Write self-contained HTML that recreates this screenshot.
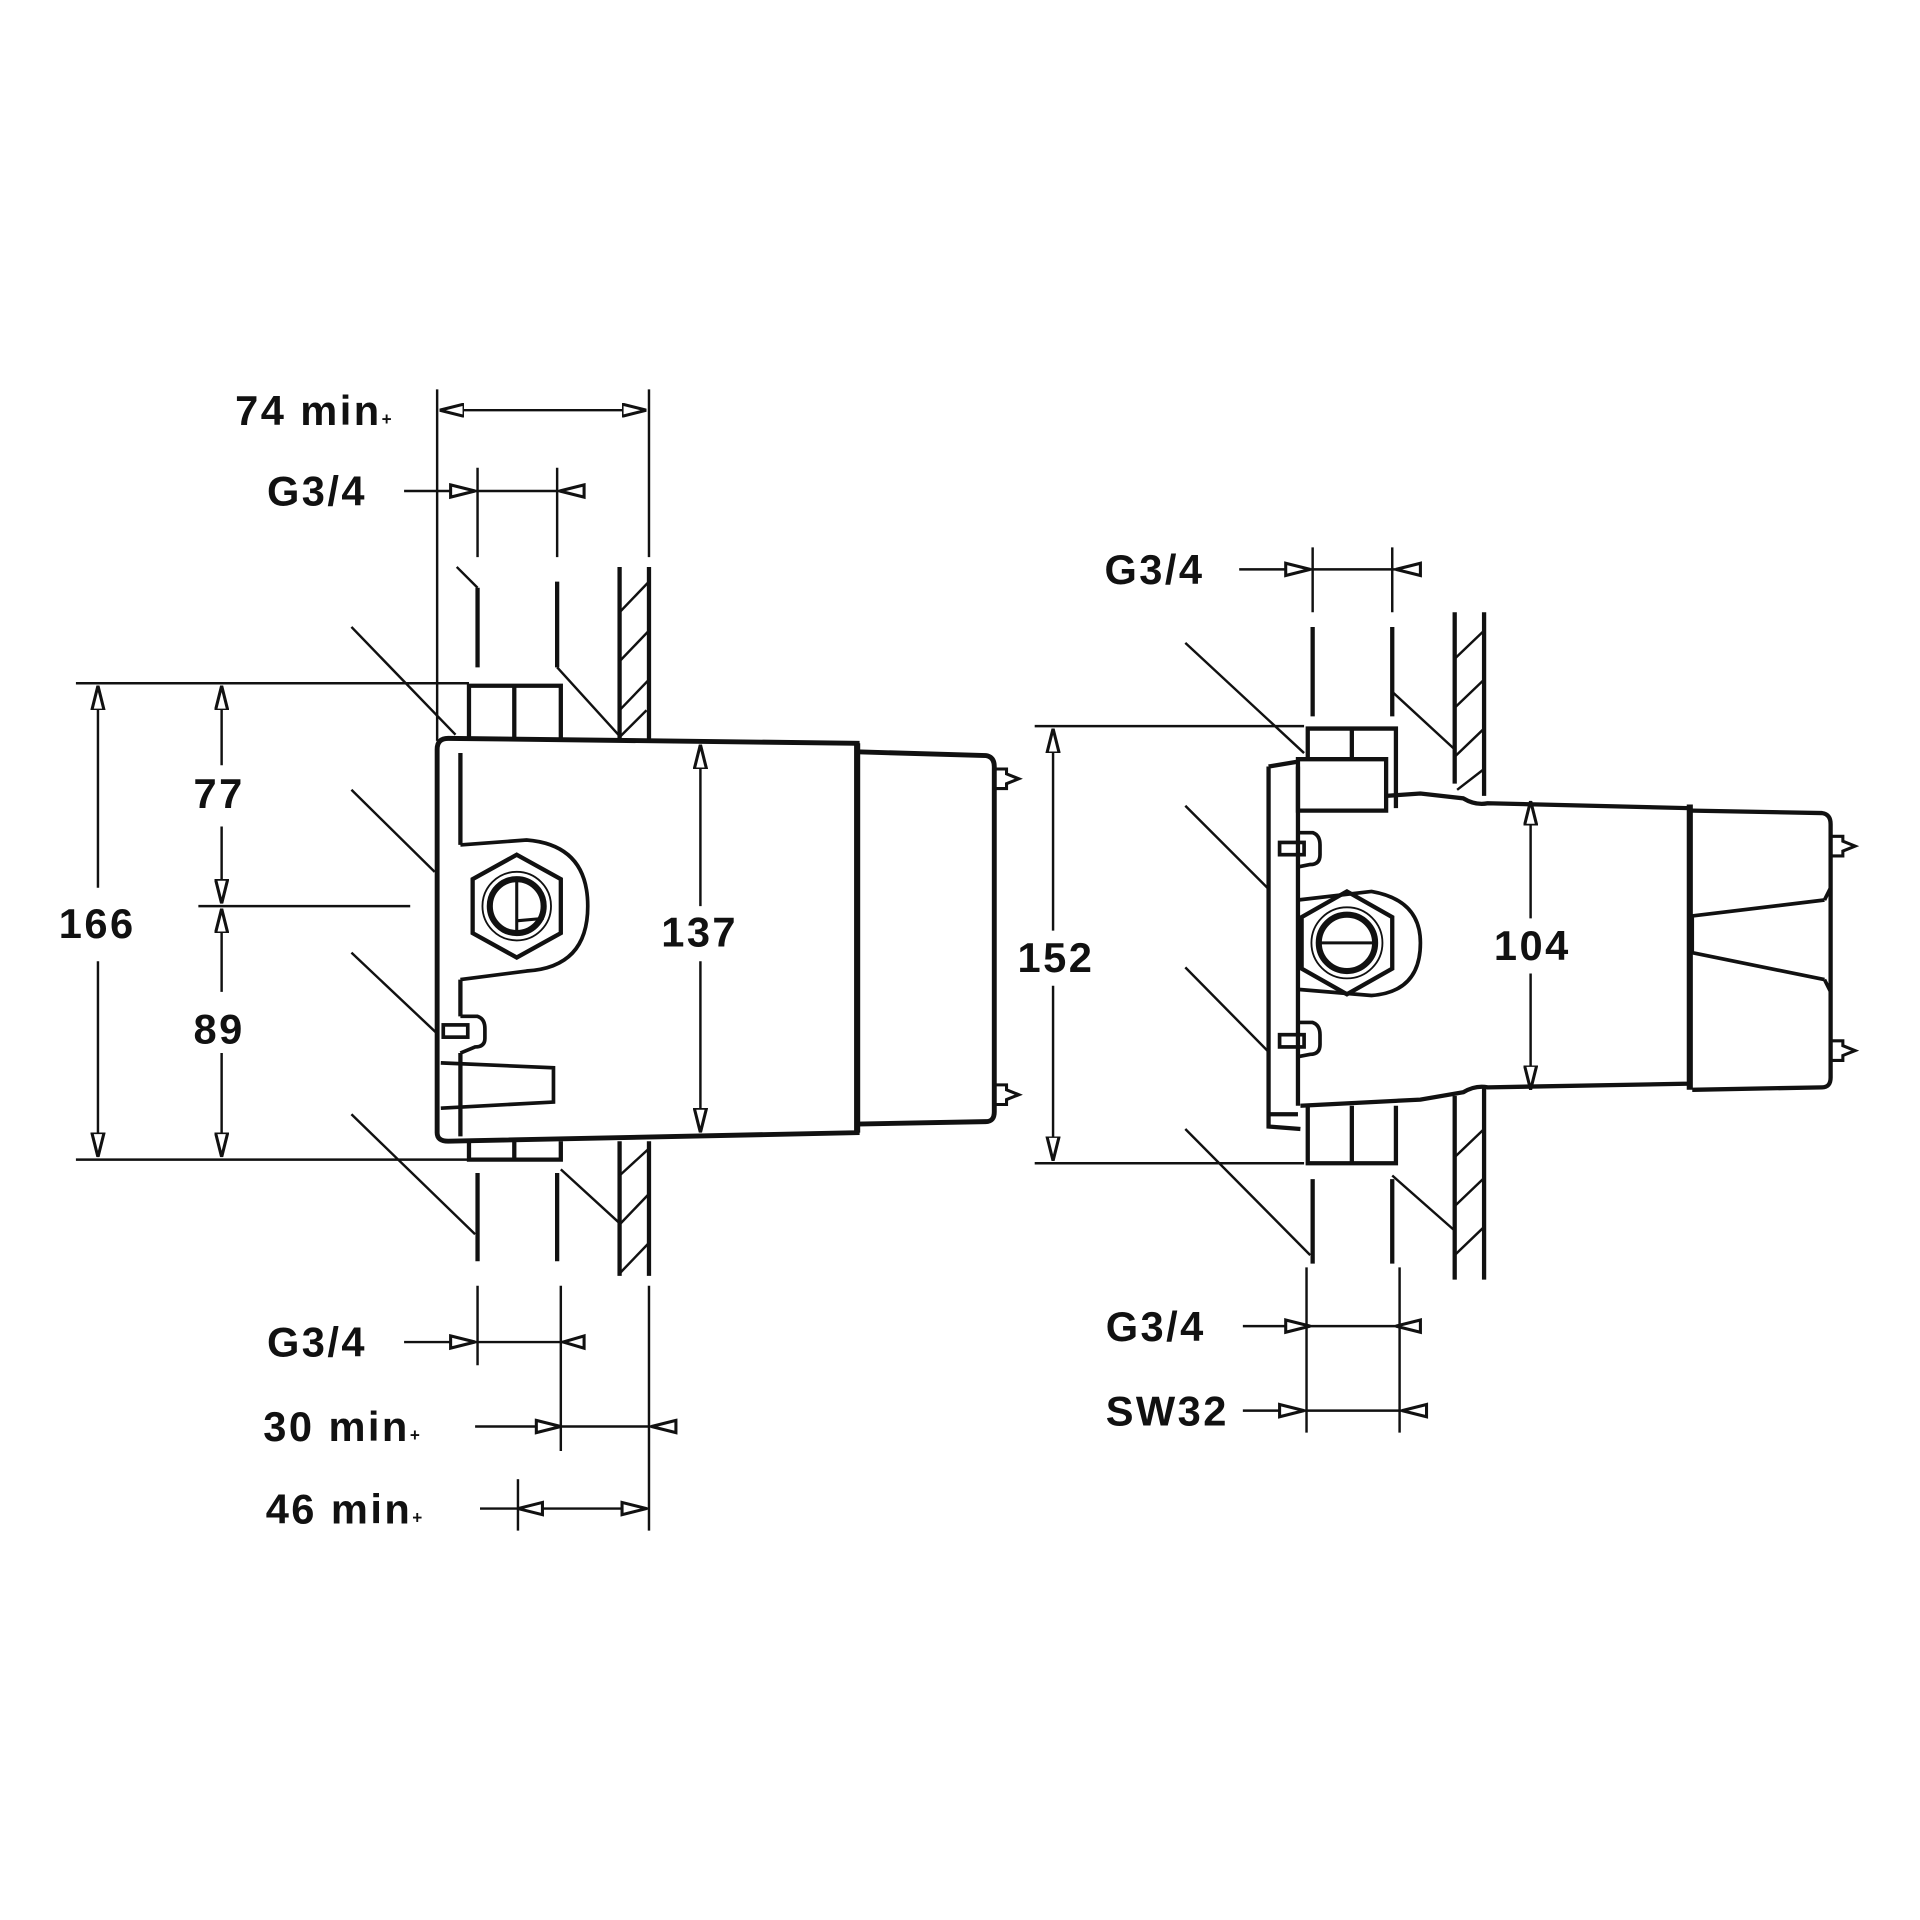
<!DOCTYPE html>
<html><head><meta charset="utf-8"><style>
html,body{margin:0;padding:0;background:#fff;}
svg{display:block;}
text{font-family:"Liberation Sans","DejaVu Sans",sans-serif;font-size:34px;font-weight:bold;fill:#111;letter-spacing:2px;}
</style></head><body>
<svg width="1920" height="1920" viewBox="0 0 1568 1568" xmlns="http://www.w3.org/2000/svg">
<defs>
<marker id="a" viewBox="0 0 20 12" refX="20" refY="6" markerWidth="20" markerHeight="12" markerUnits="userSpaceOnUse" orient="auto-start-reverse">
<path d="M0,1 L20,6 L0,11 Z" fill="#fff" stroke="#111" stroke-width="2.5"/>
</marker>
</defs>
<g stroke="#111" fill="none" stroke-width="2">
<line x1="357" y1="318" x2="357" y2="605"/>
<line x1="530" y1="318" x2="530" y2="455"/>
<line x1="359" y1="335" x2="528" y2="335" marker-start="url(#a)" marker-end="url(#a)"/>
<line x1="390" y1="382" x2="390" y2="455"/>
<line x1="455" y1="382" x2="455" y2="455"/>
<line x1="330" y1="401" x2="478" y2="401"/>
<path d="M368,396 L388,401 L368,406 Z" fill="#fff" stroke-width="2.5"/>
<path d="M477,396 L457,401 L477,406 Z" fill="#fff" stroke-width="2.5"/>
<line x1="62" y1="558" x2="383" y2="558"/>
<line x1="62" y1="947" x2="383" y2="947"/>
<line x1="162" y1="740" x2="335" y2="740"/>
<line x1="80" y1="560" x2="80" y2="725" marker-start="url(#a)"/>
<line x1="80" y1="785" x2="80" y2="945" marker-end="url(#a)"/>
<line x1="181" y1="560" x2="181" y2="625" marker-start="url(#a)"/>
<line x1="181" y1="675" x2="181" y2="738" marker-end="url(#a)"/>
<line x1="181" y1="742" x2="181" y2="810" marker-start="url(#a)"/>
<line x1="181" y1="860" x2="181" y2="945" marker-end="url(#a)"/>
<line x1="572" y1="608" x2="572" y2="740" marker-start="url(#a)"/>
<line x1="572" y1="785" x2="572" y2="925" marker-end="url(#a)"/>
<line x1="390" y1="1050" x2="390" y2="1115"/>
<line x1="458" y1="1050" x2="458" y2="1185"/>
<line x1="530" y1="1050" x2="530" y2="1250"/>
<line x1="423" y1="1208" x2="423" y2="1250"/>
<line x1="330" y1="1096" x2="478" y2="1096"/>
<path d="M368,1091 L388,1096 L368,1101 Z" fill="#fff" stroke-width="2.5"/>
<path d="M477,1091 L460,1096 L477,1101 Z" fill="#fff" stroke-width="2.5"/>
<line x1="388" y1="1165" x2="553" y2="1165"/>
<path d="M438,1160 L458,1165 L438,1170 Z" fill="#fff" stroke-width="2.5"/>
<path d="M552,1160 L532,1165 L552,1170 Z" fill="#fff" stroke-width="2.5"/>
<line x1="392" y1="1232" x2="530" y2="1232"/>
<path d="M443,1227 L423,1232 L443,1237 Z" fill="#fff" stroke-width="2.5"/>
<path d="M508,1227 L528,1232 L508,1237 Z" fill="#fff" stroke-width="2.5"/>
<line x1="287" y1="512" x2="372" y2="600"/>
<line x1="287" y1="645" x2="355" y2="712"/>
<line x1="287" y1="778" x2="358" y2="845"/>
<line x1="287" y1="910" x2="388" y2="1008"/>
<line x1="373" y1="463" x2="390" y2="480"/>
<line x1="455" y1="545" x2="505" y2="600"/>
<line x1="458" y1="955" x2="505" y2="998"/>
</g>
<g stroke="#111" fill="none" stroke-width="3.5">
<line x1="390" y1="480" x2="390" y2="545"/>
<line x1="455" y1="475" x2="455" y2="545"/>
<line x1="390" y1="958" x2="390" y2="1030"/>
<line x1="455" y1="958" x2="455" y2="1030"/>
<line x1="506" y1="463" x2="506" y2="605"/>
<line x1="530" y1="463" x2="530" y2="605"/>
<line x1="506" y1="932" x2="506" y2="1042"/>
<line x1="530" y1="932" x2="530" y2="1042"/>
<path d="M383,603 L383,560 L458,560 L458,603 M420,560 L420,603"/>
<path d="M383,932 L383,947 L458,947 L458,932 M420,932 L420,947"/>
<path d="M357,612 Q357,603 366,603 L700,607 L700,925 L366,932 Q357,932 357,925 Z" stroke-width="4"/>
<path d="M376,615 L376,690 M376,800 L376,830 M376,860 L376,928"/>
<path d="M700,614 L805,617 Q812,618 812,626 L812,908 Q812,916 805,916 L700,918" stroke-width="4"/>
<line x1="700" y1="607" x2="700" y2="925" stroke-width="5"/>
<path d="M812,628 L822,628 L822,632 L832,636 L822,640 L822,644 L812,644" stroke-width="2.5"/>
<path d="M812,886 L822,886 L822,890 L832,894 L822,898 L822,902 L812,902" stroke-width="2.5"/>
<path d="M376,690 L430,686 Q480,690 480,740 Q480,790 430,793 L376,800" stroke-width="3"/>
<path d="M376,830 L390,830 Q396,832 396,840 L396,848 Q396,855 388,855 L376,860" stroke-width="3"/>
<rect x="362" y="837" width="20" height="10" stroke-width="3"/>
<path d="M360,868 L452,872 L452,900 L360,905" stroke-width="3"/>
<polygon points="422,698 458,718 458,762 422,782 386,762 386,718" stroke-width="3.5"/>
<circle cx="422" cy="740" r="28" stroke-width="1.5"/>
<circle cx="422" cy="740" r="22" stroke-width="5"/>
<path d="M422,718 L422,762 M422,752 L444,750" stroke-width="2.5"/>
</g>
<g stroke="#111" stroke-width="2">
<line x1="506" y1="500" x2="530" y2="475"/><line x1="506" y1="540" x2="530" y2="515"/><line x1="506" y1="580" x2="530" y2="555"/><line x1="506" y1="602" x2="528" y2="580"/>
<line x1="506" y1="960" x2="530" y2="938"/><line x1="506" y1="1000" x2="530" y2="975"/><line x1="506" y1="1040" x2="530" y2="1015"/>
</g>
<g stroke="#111" fill="none" stroke-width="2">
<line x1="1072" y1="447" x2="1072" y2="500"/>
<line x1="1137" y1="447" x2="1137" y2="500"/>
<line x1="1012" y1="465" x2="1160" y2="465"/>
<path d="M1050,460 L1070,465 L1050,470 Z" fill="#fff" stroke-width="2.5"/>
<path d="M1160,460 L1140,465 L1160,470 Z" fill="#fff" stroke-width="2.5"/>
<line x1="845" y1="593" x2="1065" y2="593"/>
<line x1="845" y1="950" x2="1065" y2="950"/>
<line x1="860" y1="595" x2="860" y2="760" marker-start="url(#a)"/>
<line x1="860" y1="805" x2="860" y2="948" marker-end="url(#a)"/>
<line x1="1250" y1="654" x2="1250" y2="750" marker-start="url(#a)"/>
<line x1="1250" y1="795" x2="1250" y2="890" marker-end="url(#a)"/>
<line x1="1067" y1="1035" x2="1067" y2="1170"/>
<line x1="1143" y1="1035" x2="1143" y2="1170"/>
<line x1="1015" y1="1083" x2="1160" y2="1083"/>
<path d="M1050,1078 L1070,1083 L1050,1088 Z" fill="#fff" stroke-width="2.5"/>
<path d="M1160,1078 L1140,1083 L1160,1088 Z" fill="#fff" stroke-width="2.5"/>
<line x1="1015" y1="1152" x2="1165" y2="1152"/>
<path d="M1045,1147 L1065,1152 L1045,1157 Z" fill="#fff" stroke-width="2.5"/>
<path d="M1165,1147 L1145,1152 L1165,1157 Z" fill="#fff" stroke-width="2.5"/>
<line x1="968" y1="525" x2="1065" y2="615"/>
<line x1="968" y1="658" x2="1035" y2="725"/>
<line x1="968" y1="790" x2="1035" y2="858"/>
<line x1="968" y1="922" x2="1070" y2="1025"/>
<line x1="1137" y1="565" x2="1188" y2="612"/>
<line x1="1137" y1="960" x2="1188" y2="1005"/>
</g>
<g stroke="#111" fill="none" stroke-width="3.5">
<line x1="1072" y1="512" x2="1072" y2="585"/>
<line x1="1137" y1="512" x2="1137" y2="585"/>
<line x1="1072" y1="963" x2="1072" y2="1032"/>
<line x1="1137" y1="963" x2="1137" y2="1032"/>
<line x1="1188" y1="500" x2="1188" y2="640"/>
<line x1="1212" y1="500" x2="1212" y2="650"/>
<line x1="1188" y1="895" x2="1188" y2="1045"/>
<line x1="1212" y1="888" x2="1212" y2="1045"/>
<path d="M1068,620 L1068,595 L1140,595 L1140,660 M1104,595 L1104,620"/>
<path d="M1060,620 L1132,620 L1132,662 L1060,662 Z"/>
<path d="M1068,903 L1068,950 L1140,950 L1140,903 M1104,903 L1104,950"/>
<path d="M1060,626 L1060,903 M1036,626 L1036,920 L1062,922 M1036,626 L1060,622"/>
<path d="M1036,910 L1060,910"/>
<path d="M1132,650 L1160,648 L1195,652 Q1205,658 1215,656 L1380,660 L1380,885 L1215,888 Q1205,886 1195,892 L1160,898 L1062,903" stroke-width="3.5"/>
<line x1="1380" y1="657" x2="1380" y2="890" stroke-width="5"/>
<path d="M1382,662 L1488,664 Q1495,665 1495,673 L1495,880 Q1495,888 1488,888 L1382,890" stroke-width="3.5"/>
<path d="M1382,748 L1490,735 M1382,748 L1382,778 M1382,778 L1490,800 M1490,735 L1495,725 M1490,800 L1495,810" stroke-width="3"/>
<path d="M1495,683 L1505,683 L1505,687 L1515,691 L1505,695 L1505,699 L1495,699" stroke-width="2.5"/>
<path d="M1495,850 L1505,850 L1505,854 L1515,858 L1505,862 L1505,866 L1495,866" stroke-width="2.5"/>
<path d="M1060,735 L1120,728 Q1160,735 1160,770 Q1160,810 1120,813 L1060,808" stroke-width="3"/>
<path d="M1060,680 L1072,680 Q1078,682 1078,690 L1078,698 Q1078,706 1070,706 L1060,708" stroke-width="3"/>
<path d="M1060,835 L1072,835 Q1078,837 1078,845 L1078,853 Q1078,861 1070,861 L1060,863" stroke-width="3"/>
<rect x="1045" y="688" width="20" height="10" stroke-width="3"/>
<rect x="1045" y="845" width="20" height="10" stroke-width="3"/>
<polygon points="1100,728 1137,749 1137,791 1100,812 1063,791 1063,749" stroke-width="3.5"/>
<circle cx="1100" cy="770" r="29" stroke-width="1.5"/>
<circle cx="1100" cy="770" r="23" stroke-width="5"/>
<line x1="1078" y1="770" x2="1122" y2="770" stroke-width="2.5"/>
</g>
<g stroke="#111" stroke-width="2">
<line x1="1188" y1="538" x2="1212" y2="515"/><line x1="1188" y1="578" x2="1212" y2="555"/><line x1="1188" y1="618" x2="1212" y2="595"/><line x1="1190" y1="645" x2="1212" y2="628"/>
<line x1="1188" y1="945" x2="1212" y2="922"/><line x1="1188" y1="985" x2="1212" y2="962"/><line x1="1188" y1="1025" x2="1212" y2="1002"/>
</g>
<text x="192" y="347">74 min<tspan font-size="14">+</tspan></text>
<text x="218" y="413">G3/4</text>
<text x="158" y="660">77</text>
<text x="48" y="766">166</text>
<text x="158" y="852">89</text>
<text x="540" y="773">137</text>
<text x="218" y="1108">G3/4</text>
<text x="215" y="1177">30 min<tspan font-size="14">+</tspan></text>
<text x="217" y="1244">46 min<tspan font-size="14">+</tspan></text>
<text x="902" y="477">G3/4</text>
<text x="831" y="794">152</text>
<text x="1220" y="784">104</text>
<text x="903" y="1095">G3/4</text>
<text x="903" y="1164">SW32</text>
</svg>
</body></html>
